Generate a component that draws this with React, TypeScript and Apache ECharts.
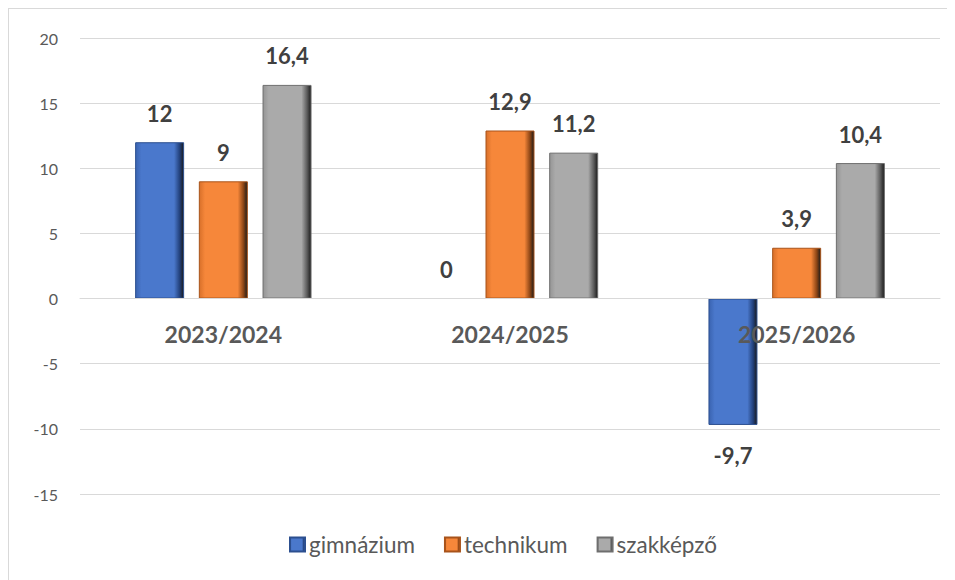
import React, { useEffect, useRef } from "react";
import * as echarts from "echarts";

const categories = ["2023/2024", "2024/2025", "2025/2026"];
const seriesNames = ["gimnázium", "technikum", "szakképző"];
const gimnazium = [12, 0, -9.7];
const technikum = [9, 12.9, 3.9];
const szakkepzo = [16.4, 11.2, 10.4];
const yTicks = { min: -15, max: 20, interval: 5 };

const FONT = "Lato, 'Open Sans', sans-serif";

function grad(light: string, base: string, dark: string) {
  return new echarts.graphic.LinearGradient(0, 0, 1, 0, [
    { offset: 0, color: light },
    { offset: 0.12, color: base },
    { offset: 0.8, color: base },
    { offset: 0.92, color: dark },
    { offset: 1, color: "#1a1a1a" },
  ]);
}

export default function App() {
  const ref = useRef<HTMLDivElement>(null);
  useEffect(() => {
    if (!ref.current) return;
    const chart = echarts.init(ref.current, undefined, { renderer: "svg" });
    const styles = [
      { color: grad("#3a63b0", "#4a78cc", "#22407a"), border: "#2c4f8f" },
      { color: grad("#d8702a", "#f6873a", "#8a4415"), border: "#a8531a" },
      { color: grad("#959595", "#aaaaaa", "#5a5a5a"), border: "#6e6e6e" },
    ];
    const datas = [gimnazium, technikum, szakkepzo];
    const fmt = (v: number) => String(v).replace(".", ",");
    const gridTop = 29;
    const gridBottom = 86;
    const chartH = 571;
    const plotH = chartH - gridTop - gridBottom;
    const zeroFromBottom = (plotH * (0 - yTicks.min)) / (yTicks.max - yTicks.min);
    chart.setOption({
      animation: false,
      grid: { left: 71, right: 15, top: gridTop, bottom: gridBottom, containLabel: false },
      legend: {
        bottom: 19,
        left: 275,
        itemWidth: 15,
        itemHeight: 14,
        itemGap: 29,
        icon: "rect",
        textStyle: { fontFamily: FONT, fontSize: 22.5, color: "#595959", padding: [0, 0, 0, -1] },
        data: seriesNames,
      },
      xAxis: {
        type: "category",
        data: categories,
        offset: -zeroFromBottom,
        z: 5,
        axisLine: { show: true, onZero: false, lineStyle: { color: "#d9d9d9", width: 1 } },
        axisTick: { show: false },
        axisLabel: {
          margin: 24,
          fontFamily: FONT,
          fontSize: 23,
          fontWeight: "bold",
          color: "#595959",
        },
      },
      yAxis: {
        type: "value",
        min: yTicks.min,
        max: yTicks.max,
        interval: yTicks.interval,
        axisLine: { show: false },
        axisTick: { show: false },
        axisLabel: { margin: 22, fontFamily: FONT, fontSize: 16, color: "#595959" },
        splitLine: { lineStyle: { color: "#d9d9d9", width: 1 } },
      },
      series: seriesNames.map((name, i) => ({
        name,
        type: "bar",
        barWidth: 49,
        barGap: "30%",
        z: 3,
        itemStyle: { color: styles[i].color, borderColor: styles[i].border, borderWidth: 1 },
        data: datas[i].map((v) => ({
          value: v,
          itemStyle: v === 0 ? { borderWidth: 0, color: "rgba(0,0,0,0)" } : undefined,
          label: {
            position: v < 0 ? "bottom" : "top",
            distance: v < 0 ? 20 : 18,
          },
        })),
        label: {
          show: true,
          formatter: (p: any) => fmt(p.value),
          fontFamily: FONT,
          fontSize: 22,
          fontWeight: "bold",
          color: "#404040",
        },
      })),
    });
    return () => chart.dispose();
  }, []);
  return (
    <div
      ref={ref}
      style={{
        width: 946,
        height: 571,
        borderLeft: "1px solid #d9d9d9",
        borderTop: "1px solid #d9d9d9",
        background: "#fff",
      }}
    />
  );
}
